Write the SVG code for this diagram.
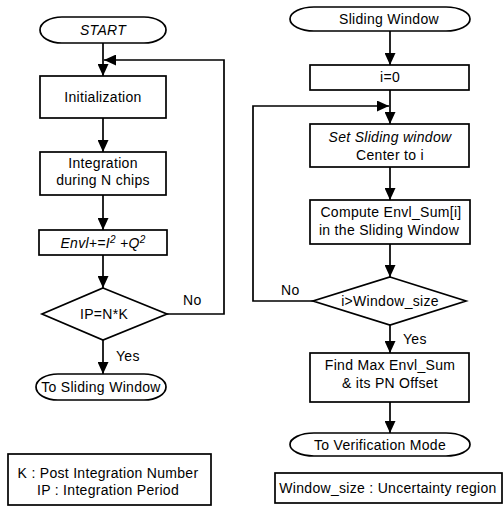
<svg xmlns="http://www.w3.org/2000/svg" width="503" height="509" viewBox="0 0 503 509">
<style>
.box{fill:#fff;stroke:#000;stroke-width:1.7}
.ln{fill:none;stroke:#000;stroke-width:1.7}
text{font-family:"Liberation Sans",Arial,sans-serif;font-size:14px;letter-spacing:0.3px;fill:#000;text-anchor:middle}
.it{font-style:italic}
.l{text-anchor:start}
</style>
<defs>
<marker id="ah" markerUnits="userSpaceOnUse" markerWidth="12" markerHeight="11" refX="12" refY="5.5" orient="auto">
<path d="M0,0 L12,5.5 L0,11 z" fill="#000"/>
</marker>
</defs>
<rect width="503" height="509" fill="#fff"/>
<g id="connectors">
<line class="ln" x1="103" y1="43" x2="103" y2="76" marker-end="url(#ah)"/>
<line class="ln" x1="103" y1="118" x2="103" y2="152" marker-end="url(#ah)"/>
<line class="ln" x1="103" y1="195" x2="103" y2="230" marker-end="url(#ah)"/>
<line class="ln" x1="103" y1="255" x2="103" y2="288" marker-end="url(#ah)"/>
<line class="ln" x1="103" y1="340" x2="103" y2="374" marker-end="url(#ah)"/>
<path class="ln" d="M167,314 H224 V60 H104" marker-end="url(#ah)"/>
<text class="l" x="183" y="305">No</text>
<text class="l" x="116" y="361">Yes</text>
<line class="ln" x1="390" y1="31" x2="390" y2="65" marker-end="url(#ah)"/>
<line class="ln" x1="390" y1="90" x2="390" y2="124" marker-end="url(#ah)"/>
<line class="ln" x1="390" y1="167" x2="390" y2="200" marker-end="url(#ah)"/>
<line class="ln" x1="390" y1="244" x2="390" y2="277" marker-end="url(#ah)"/>
<line class="ln" x1="390" y1="325" x2="390" y2="353" marker-end="url(#ah)"/>
<line class="ln" x1="390" y1="402" x2="390" y2="433" marker-end="url(#ah)"/>
<path class="ln" d="M313,301 H253 V106 H389" marker-end="url(#ah)"/>
<text class="l" x="281" y="295">No</text>
<text class="l" x="403" y="344">Yes</text>
</g>
<g id="start">
<rect class="box" x="40" y="17" width="126" height="26" rx="22" ry="13"/>
<text class="it" x="103" y="35">START</text>
</g>
<g id="init">
<rect class="box" x="40" y="76" width="126" height="42"/>
<text x="103" y="102">Initialization</text>
</g>
<g id="integration">
<rect class="box" x="40" y="152" width="126" height="43"/>
<text x="103" y="168">Integration</text>
<text x="103" y="185">during N chips</text>
</g>
<g id="envl">
<rect class="box" x="39" y="230" width="128" height="25"/>
<text class="it" x="103" y="248">Envl+=I<tspan font-size="10" dy="-5">2</tspan><tspan dy="5"> +Q</tspan><tspan font-size="10" dy="-5">2</tspan></text>
</g>
<g id="ipcheck">
<polygon class="box" points="103,288 167,314 103,340 42,314"/>
<text x="104" y="319">IP=N*K</text>
</g>
<g id="tosliding">
<rect class="box" x="36" y="374" width="130" height="26" rx="22" ry="13"/>
<text x="101" y="392">To Sliding Window</text>
</g>
<g id="legend-left">
<rect class="box" x="8" y="454" width="203" height="51"/>
<text x="108" y="478">K : Post Integration Number</text>
<text x="108" y="495">IP : Integration Period</text>
</g>
<g id="sliding">
<rect class="box" x="290" y="7" width="180" height="24" rx="24" ry="12"/>
<text x="389" y="24">Sliding Window</text>
</g>
<g id="izero">
<rect class="box" x="310" y="65" width="159" height="25"/>
<text x="390" y="82">i=0</text>
</g>
<g id="setcenter">
<rect class="box" x="310" y="124" width="159" height="43"/>
<text class="it" x="390" y="142">Set Sliding window</text>
<text x="390" y="160">Center to i</text>
</g>
<g id="compute">
<rect class="box" x="310" y="200" width="160" height="44"/>
<text x="391" y="217">Compute Envl_Sum[i]</text>
<text x="389" y="235">in the Sliding Window</text>
</g>
<g id="wincheck">
<polygon class="box" points="390,277 466,301 390,325 313,301"/>
<text x="390" y="306">i&gt;Window_size</text>
</g>
<g id="findmax">
<rect class="box" x="310" y="353" width="159" height="49"/>
<text x="390" y="370">Find Max Envl_Sum</text>
<text x="390" y="388">&amp; its PN Offset</text>
</g>
<g id="toverif">
<rect class="box" x="290" y="433" width="180" height="23" rx="24" ry="11.5"/>
<text x="380" y="450">To Verification Mode</text>
</g>
<g id="legend-right">
<rect class="box" x="275" y="473" width="227" height="30"/>
<text x="388" y="493">Window_size : Uncertainty region</text>
</g>
</svg>
